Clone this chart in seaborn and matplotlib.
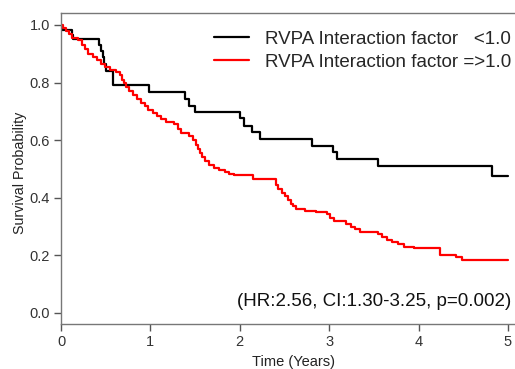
import numpy as np
import pandas as pd
import matplotlib
matplotlib.use("Agg")
import matplotlib.pyplot as plt
import seaborn as sns

# ---- data ----
low_time = [0.0, 0.01, 0.12, 0.13, 0.425, 0.45, 0.47, 0.48, 0.50, 0.58, 0.98,
            1.39, 1.43, 1.50, 2.00, 2.05, 2.14, 2.23, 2.81, 3.04, 3.09, 3.55, 4.82, 5.0]
low_surv = [1.0, 0.983, 0.965, 0.951, 0.931, 0.91, 0.89, 0.865, 0.84, 0.79, 0.767,
            0.743, 0.72, 0.698, 0.677, 0.65, 0.628, 0.605, 0.58, 0.559, 0.535, 0.51, 0.476, 0.476]

high_time = [0.0, 0.02, 0.06, 0.09, 0.12, 0.19, 0.23, 0.27, 0.30, 0.36, 0.40, 0.45,
             0.49, 0.55, 0.62, 0.66, 0.68, 0.70, 0.73, 0.76, 0.81, 0.85, 0.89, 0.94,
             0.97, 1.03, 1.07, 1.12, 1.17, 1.26, 1.31, 1.34, 1.43, 1.48, 1.51, 1.53,
             1.55, 1.58, 1.61, 1.66, 1.71, 1.77, 1.83, 1.88, 1.93, 2.15, 2.40, 2.43,
             2.47, 2.51, 2.54, 2.57, 2.60, 2.63, 2.73, 2.85, 2.98, 3.01, 3.05, 3.19,
             3.24, 3.29, 3.34, 3.55, 3.59, 3.65, 3.70, 3.77, 3.84, 3.95, 4.24, 4.42,
             4.49, 5.0]
high_surv = [1.0, 0.99, 0.98, 0.97, 0.955, 0.948, 0.93, 0.915, 0.90, 0.89, 0.878, 0.866,
             0.854, 0.844, 0.836, 0.826, 0.81, 0.80, 0.783, 0.77, 0.757, 0.744, 0.73, 0.72,
             0.705, 0.695, 0.683, 0.672, 0.663, 0.655, 0.64, 0.625, 0.615, 0.60, 0.585, 0.57,
             0.556, 0.54, 0.527, 0.515, 0.505, 0.497, 0.49, 0.483, 0.479, 0.464, 0.444, 0.432,
             0.418, 0.405, 0.392, 0.38, 0.37, 0.362, 0.355, 0.35, 0.343, 0.33, 0.318, 0.31,
             0.30, 0.29, 0.281, 0.275, 0.265, 0.255, 0.245, 0.238, 0.23, 0.226, 0.20, 0.195,
             0.184, 0.184]

labels = ["RVPA Interaction factor   <1.0", "RVPA Interaction factor =>1.0"]
x_ticks = [0, 1, 2, 3, 4, 5]
y_ticks = [0.0, 0.2, 0.4, 0.6, 0.8, 1.0]
annotation = "(HR:2.56, CI:1.30-3.25, p=0.002)"

df = pd.concat([
    pd.DataFrame({"time": low_time, "surv": low_surv, "group": labels[0]}),
    pd.DataFrame({"time": high_time, "surv": high_surv, "group": labels[1]}),
])

# ---- figure ----
sns.set_style("white")
plt.rcParams["font.family"] = ["Liberation Sans", "DejaVu Sans"]

W, H = 515, 369
fig = plt.figure(figsize=(W / 100, H / 100), dpi=100)
left_px, right_px, top_px, bot_px = 61, 520, 13, 324
ax_w, ax_h = right_px - left_px, bot_px - top_px
ax = fig.add_axes([left_px / W, 1 - bot_px / H, ax_w / W, ax_h / H])

sns.lineplot(data=df, x="time", y="surv", hue="group", palette=["black", "#ff0000"],
             estimator=None, sort=False, drawstyle="steps-post", linewidth=1.6,
             legend=False, ax=ax)

px_per_year = 89.4
ax.set_xlim(0, ax_w / px_per_year)
ax.set_ylim((313 - bot_px) / 288, (313 - top_px) / 288)
ax.set_xticks(x_ticks)
ax.set_xticklabels([str(t) for t in x_ticks])
ax.set_yticks(y_ticks)
ax.set_yticklabels([f"{t:.1f}" for t in y_ticks])
ax.tick_params(axis="both", which="both", direction="out", length=5, width=1,
               color="#555555", labelsize=10.5, labelcolor="#333333", pad=3,
               bottom=True, left=True)
for s in ["left", "bottom", "top"]:
    ax.spines[s].set_visible(True)
    ax.spines[s].set_color("#777777")
    ax.spines[s].set_linewidth(1.0)
ax.spines["right"].set_visible(False)

ax.set_xlabel("Time (Years)", fontsize=10.5, color="#222222")
ax.set_ylabel("Survival Probability", fontsize=10.3, color="#222222")
ax.xaxis.set_label_coords((293 - left_px) / ax_w, (bot_px - 355) / ax_h)
ax.yaxis.set_label_coords((27 - left_px) / ax_w, (bot_px - 173) / ax_h)

# legend
handles = [plt.Line2D([], [], color="black", lw=1.6),
           plt.Line2D([], [], color="#ff0000", lw=1.6)]
leg = ax.legend(handles, labels, loc="upper left", frameon=False, fontsize=13.5,
                bbox_to_anchor=((213 - 17 - left_px) / ax_w, 1.0),
                handlelength=1.85, handletextpad=0.9, labelspacing=0.3,
                borderaxespad=0.55)

fig.text(237 / W, 1 - 302 / H, annotation, fontsize=13.5, ha="left", va="center",
         color="#111111")

fig.savefig("out.png", dpi=100)
